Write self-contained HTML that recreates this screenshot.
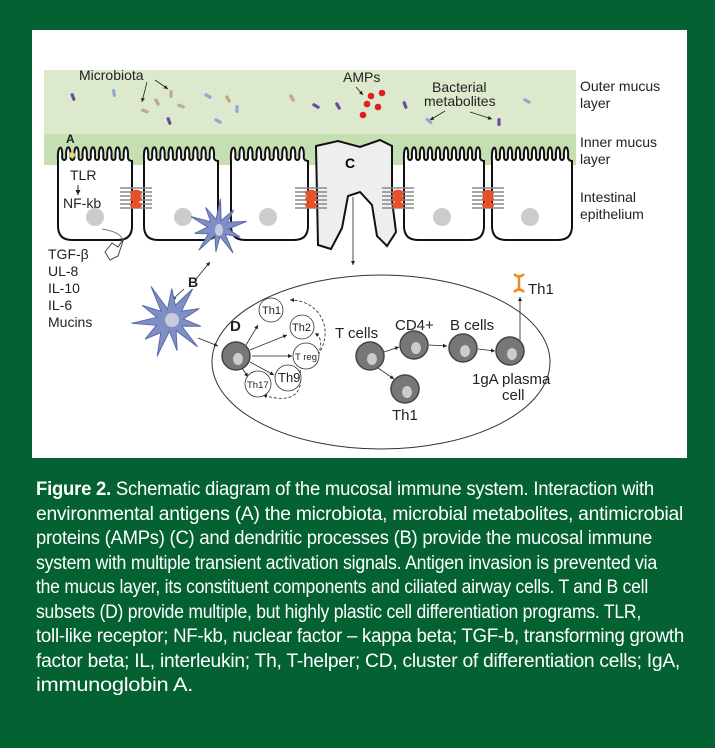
<!DOCTYPE html>
<html><head><meta charset="utf-8"><style>
html,body{margin:0;padding:0;}
body{width:715px;height:748px;background:#046232;position:relative;overflow:hidden;font-family:"Liberation Sans",sans-serif;}
#panel{position:absolute;left:32px;top:30px;width:655px;height:428px;background:#fff;}
svg{position:absolute;left:0;top:0;}
#cap{position:absolute;left:36px;top:478px;width:690px;color:#fff;font-size:19px;line-height:24.5px;letter-spacing:-0.25px;}
#cap div{white-space:nowrap;}
#cap span{display:inline-block;transform-origin:0 0;}
</style></head><body>
<div id="panel"></div>
<svg id="s" width="715" height="748" viewBox="0 0 715 748" font-family="Liberation Sans, sans-serif">
<defs><marker id="a" markerWidth="6" markerHeight="6" refX="5" refY="3" orient="auto"><path d="M0,0.5 L5,3 L0,5.5z" fill="#222"/></marker></defs>
<rect x="44" y="70" width="532" height="64" fill="#dde9cd"/>
<rect x="44" y="134" width="532" height="31" fill="#c6dfb2"/>
<g id="cells" fill="#fff" stroke="#111" stroke-width="2"></g>
<path d="M316,146 L338,141 L360,147 L380,140 L392,146 L392,200 L396,232 L387,246 L377,236 L372,205 L360,192 L348,196 L342,228 L331,249 L318,245 Z" fill="#eee" stroke="#111" stroke-width="2"/>
<text x="345" y="168" font-size="14" font-weight="bold">C</text>
<g fill="#ccc"><circle cx="95" cy="217" r="9"/><circle cx="183" cy="217" r="9"/><circle cx="268" cy="217" r="9"/><circle cx="442" cy="217" r="9"/><circle cx="530" cy="217" r="9"/></g>
<g id="tj"></g>
<g font-size="14" fill="#222">
<text x="580" y="91">Outer mucus</text><text x="580" y="108">layer</text>
<text x="580" y="147">Inner mucus</text><text x="580" y="164">layer</text>
<text x="580" y="202">Intestinal</text><text x="580" y="219">epithelium</text>
<text x="79" y="80">Microbiota</text><text x="343" y="82">AMPs</text>
<text x="432" y="92">Bacterial</text><text x="424" y="106">metabolites</text>
<text x="70" y="180">TLR</text><text x="63" y="208">NF-kb</text>
<text x="48" y="259">TGF-β</text><text x="48" y="276">UL-8</text><text x="48" y="293">IL-10</text><text x="48" y="310">IL-6</text><text x="48" y="327">Mucins</text>
<text x="66" y="143" font-weight="bold" font-size="12">A</text>
<text x="188" y="287" font-weight="bold">B</text>
<text x="230" y="331" font-weight="bold" font-size="15">D</text>
</g>
<g font-size="15" fill="#222">
<text x="335" y="338">T cells</text><text x="395" y="330">CD4+</text><text x="450" y="330">B cells</text>
<text x="472" y="384">1gA plasma</text><text x="502" y="400">cell</text>
<text x="392" y="420">Th1</text><text x="528" y="294">Th1</text>
</g>
<circle cx="72" cy="155" r="3" fill="#e8e060" stroke="#888" stroke-width="0.5"/>
<line x1="78" y1="185" x2="78" y2="195" stroke="#222" marker-end="url(#a)"/>
<g id="bac"></g>
<g fill="#e02020"><circle cx="371" cy="96" r="3.3"/><circle cx="382" cy="93" r="3.3"/><circle cx="367" cy="104" r="3.3"/><circle cx="378" cy="107" r="3.3"/><circle cx="363" cy="115" r="3.3"/></g>
<g stroke="#222" stroke-width="0.8" fill="none">
<line x1="155" y1="80" x2="168" y2="89" marker-end="url(#a)"/><line x1="147" y1="82" x2="142" y2="102" marker-end="url(#a)"/>
<line x1="356" y1="87" x2="363" y2="95" marker-end="url(#a)"/>
<line x1="445" y1="111" x2="430" y2="120" marker-end="url(#a)"/><line x1="470" y1="112" x2="492" y2="119" marker-end="url(#a)"/>
<line x1="353" y1="197" x2="353" y2="265" marker-end="url(#a)"/>
<line x1="196" y1="279" x2="210" y2="262" marker-end="url(#a)"/><line x1="184" y1="289" x2="172" y2="300" marker-end="url(#a)"/>
<line x1="198" y1="338" x2="218" y2="346" marker-end="url(#a)"/>
<line x1="246" y1="345" x2="258" y2="325" marker-end="url(#a)"/>
<line x1="250" y1="350" x2="287" y2="335" marker-end="url(#a)"/>
<line x1="252" y1="356" x2="292" y2="356" marker-end="url(#a)"/>
<line x1="250" y1="362" x2="274" y2="375" marker-end="url(#a)"/>
<line x1="242" y1="368" x2="248" y2="377" marker-end="url(#a)"/>
<line x1="384" y1="352" x2="399" y2="347" marker-end="url(#a)"/>
<line x1="378" y1="368" x2="394" y2="379" marker-end="url(#a)"/>
<line x1="429" y1="345" x2="447" y2="346" marker-end="url(#a)"/>
<line x1="478" y1="349" x2="495" y2="351" marker-end="url(#a)"/>
<line x1="520" y1="342" x2="520" y2="297" marker-end="url(#a)"/>
<path d="M318,355 C335,330 320,300 290,300" stroke-dasharray="3,2" marker-end="url(#a)"/>
<path d="M318,355 C322,345 322,338 315,333" stroke-dasharray="3,2" marker-end="url(#a)"/>
<path d="M300,370 C305,400 285,402 263,395" stroke-dasharray="3,2" marker-end="url(#a)"/>
<path d="M102,229 C120,232 128,238 118,250 L114,252" stroke="#555"/>
</g>
<path d="M105,252 L112,243 L118,247 L124,238 L118,256 L110,260 Z" fill="#fff" stroke="#444" stroke-width="1"/>
<ellipse cx="381" cy="362" rx="169" ry="87" fill="none" stroke="#333" stroke-width="1"/>
<g stroke="#333" stroke-width="0.8" fill="#fff">
<circle cx="271" cy="310" r="12"/><circle cx="302" cy="327" r="12"/><circle cx="306" cy="356" r="13"/><circle cx="288" cy="378" r="13"/><circle cx="258" cy="384" r="13"/>
</g>
<g font-size="11" fill="#222"><text x="262" y="314">Th1</text><text x="292" y="331">Th2</text><text x="295" y="360" font-size="9.5">T reg</text><text x="278" y="382" font-size="13">Th9</text><text x="247" y="388" font-size="9.5">Th17</text></g>
<g id="big"></g>
<path d="M519,276 L519,290 M514,274 Q519,279 524,274 M514,292 Q519,287 524,292" stroke="#f08a20" stroke-width="2.5" fill="none"/>
</svg>
<div id="cap">
<div><span data-w="618"><b>Figure 2.</b> Schematic diagram of the mucosal immune system. Interaction with</span></div>
<div><span data-w="647">environmental antigens (A) the microbiota, microbial metabolites, antimicrobial</span></div>
<div><span data-w="616">proteins (AMPs) (C) and dendritic processes (B) provide the mucosal immune</span></div>
<div><span data-w="621">system with multiple transient activation signals. Antigen invasion is prevented via</span></div>
<div><span data-w="612">the mucus layer, its constituent components and ciliated airway cells. T and B cell</span></div>
<div><span data-w="605">subsets (D) provide multiple, but highly plastic cell differentiation programs. TLR,</span></div>
<div><span data-w="648">toll-like receptor; NF-kb, nuclear factor – kappa beta; TGF-b, transforming growth</span></div>
<div><span data-w="644">factor beta; IL, interleukin; Th, T-helper; CD, cluster of differentiation cells; IgA,</span></div>
<div><span data-w="157">immunoglobin A.</span></div>
</div>
<script>
var NS="http://www.w3.org/2000/svg";
function el(p,t,a){var e=document.createElementNS(NS,t);for(var k in a)e.setAttribute(k,a[k]);document.getElementById(p).appendChild(e);return e;}
var cells=[[58,132],[144,218],[231,308],[404,484],[492,572]];
cells.forEach(function(c){var x0=c[0],x1=c[1],b=240,base=157,top=144;
var d="M"+x0+","+(base+4)+" ";var n=Math.floor((x1-x0)/8);var w=(x1-x0)/n;
for(var i=0;i<n;i++){var a=x0+i*w;d+="C"+(a-1)+","+top+" "+(a+w/2+1)+","+top+" "+(a+w/2)+","+base+" C"+(a+w/2)+","+(base+4)+" "+(a+w)+","+(base+4)+" "+(a+w)+","+(i==n-1?base+4:base)+" ";}
d+="L"+x1+","+(b-14)+" Q"+x1+","+b+" "+(x1-14)+","+b+" L"+(x0+14)+","+b+" Q"+x0+","+b+" "+x0+","+(b-14)+" Z";
el("cells","path",{d:d});});
[136,311,398,488].forEach(function(x){for(var i=0;i<6;i++)el("tj","line",{x1:x-16,y1:188+i*4,x2:x+16,y2:188+i*4,stroke:"#888","stroke-width":1.5});
for(var j=0;j<3;j++)el("tj","ellipse",{cx:x,cy:193+j*6,rx:6,ry:3.2,fill:"#e8502a"});});
var bac=[[73,97,"#6a4c9c",70],[114,93,"#8fa8d8",80],[145,111,"#c0a888",20],[157,102,"#c0a888",60],[171,94,"#c0a888",90],[181,106,"#c0a888",20],[169,121,"#6a4c9c",70],[208,96,"#8fa8d8",30],[228,99,"#c0a888",60],[237,109,"#8fa8d8",90],[218,121,"#8fa8d8",30],[292,98,"#c0a888",60],[316,106,"#6a4c9c",30],[338,106,"#6a4c9c",60],[405,105,"#6a4c9c",70],[527,101,"#8fa8d8",30],[429,121,"#8fa8d8",40],[499,122,"#6a4c9c",90]];
bac.forEach(function(b){el("bac","rect",{x:b[0]-4,y:b[1]-1.6,width:8,height:3.2,rx:1.5,fill:b[2],transform:"rotate("+b[3]+" "+b[0]+" "+b[1]+")"});});
function star(cx,cy,R,r,n,off){var p="";for(var i=0;i<2*n;i++){var rr=i%2?r*(0.8+0.4*((i*7)%5)/5):R*(0.75+0.25*((i*3)%4)/3);var t=Math.PI*i/n+off;p+=(cx+rr*Math.cos(t)).toFixed(1)+","+(cy+rr*Math.sin(t)).toFixed(1)+" ";}
el("big","polygon",{points:p,fill:"#7f8fc6",stroke:"#5b6aa8","stroke-width":1});}
star(170,320,42,14,11,0.2);el("big","circle",{cx:172,cy:320,r:7,fill:"#c8cbe0"});
star(218,228,32,10,10,0.4);el("big","ellipse",{cx:219,cy:230,rx:4,ry:6,fill:"#c8cbe0"});
[[236,356],[370,356],[414,345],[463,348],[510,351],[405,389]].forEach(function(c){el("big","circle",{cx:c[0],cy:c[1],r:14,fill:"#777",stroke:"#444","stroke-width":1.5});el("big","ellipse",{cx:c[0]+2,cy:c[1]+3,rx:5,ry:6,fill:"#ccc"});});
document.querySelectorAll("#cap span").forEach(function(s){var w=s.getBoundingClientRect().width;var t=+s.getAttribute("data-w");s.style.transform="scaleX("+(t/w)+")";});
</script>
</body></html>
